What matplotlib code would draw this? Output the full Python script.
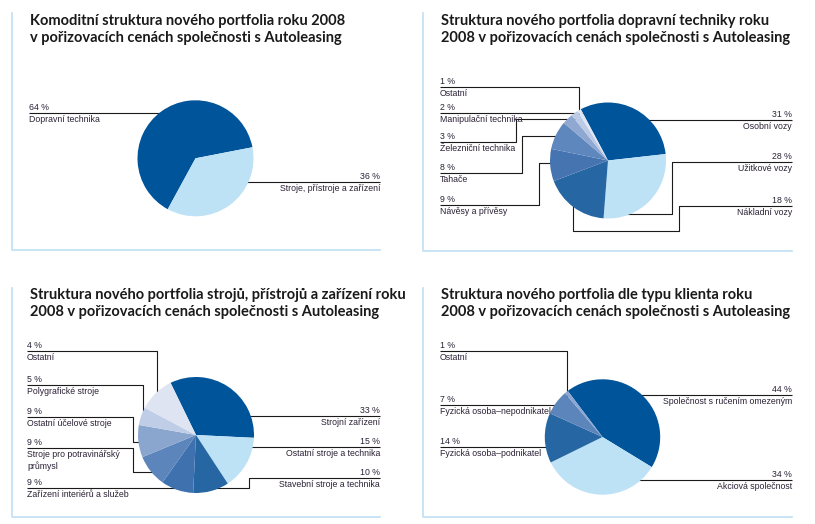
import matplotlib.pyplot as plt

W, H = 815, 524

DARK = '#00549a'
LIGHT = '#bde2f6'
BORDER = '#c4e3f5'
INK = '#1a1a1a'
LABEL_INK = '#2b2236'

# --- data (in drawing order around each pie) ---
kom_names = ["Dopravní technika", "Stroje, přístroje a zařízení"]
kom_values = [64, 36]

dop_names = ["Osobní vozy", "Užitkové vozy", "Nákladní vozy", "Návěsy a přívěsy",
             "Tahače", "Železniční technika", "Manipulační technika", "Ostatní"]
dop_values = [31, 28, 18, 9, 8, 3, 2, 1]

str_names = ["Strojní zařízení", "Ostatní stroje a technika", "Stavební stroje a technika",
             "Zařízení interiérů a služeb", "Stroje pro potravinářský\nprůmysl",
             "Ostatní účelové stroje", "Polygrafické stroje", "Ostatní"]
str_values = [33, 15, 10, 9, 9, 9, 5, 4]

kli_names = ["Společnost s ručením omezeným", "Akciová společnost",
             "Fyzická osoba–podnikatel", "Fyzická osoba–nepodnikatel", "Ostatní"]
kli_values = [44, 34, 14, 7, 1]

titles = [
    "Komoditní struktura nového portfolia roku 2008\nv pořizovacích cenách společnosti s Autoleasing",
    "Struktura nového portfolia dopravní techniky roku\n2008 v pořizovacích cenách společnosti s Autoleasing",
    "Struktura nového portfolia strojů, přístrojů a zařízení roku\n2008 v pořizovacích cenách společnosti s Autoleasing",
    "Struktura nového portfolia dle typu klienta roku\n2008 v pořizovacích cenách společnosti s Autoleasing",
]

dop_colors = [DARK, LIGHT, '#2566a3', '#4574b0', '#5e87bd', '#8ea8d1', '#bccae6', '#e0e7f4']
str_colors = [DARK, LIGHT, '#2566a3', '#3e71ad', '#5b85bb', '#8aa6cf', '#c0cde6', '#dee4f1']
kli_colors = [DARK, LIGHT, '#2566a3', '#5b85bb', '#8ba6d0']

fig = plt.figure(figsize=(W / 100, H / 100), dpi=100)
ax = fig.add_axes([0, 0, 1, 1])

TITLE_FONT = ['Lato', 'DejaVu Sans']
LABEL_FONT = ['Liberation Sans Narrow', 'Liberation Sans', 'DejaVu Sans']


def draw_pie(values, colors, center, r, start, clockwise=True):
    # y axis is inverted (pixel coords), so visual angles are mirrored
    ax.pie(values, colors=colors, center=center, radius=r,
           startangle=-start, counterclock=clockwise,
           wedgeprops=dict(linewidth=0, zorder=3))


def leader(points, value, name, side='left'):
    xs = [p[0] for p in points]
    ys = [p[1] for p in points]
    ax.plot(xs, ys, color=INK, lw=0.8, zorder=1, solid_capstyle='butt')
    x0, y0 = points[0]
    ha = 'left' if side == 'left' else 'right'
    ax.text(x0, y0 - 1.0, f"{value} %", ha=ha, va='bottom', fontsize=6.3,
            color=LABEL_INK, family=LABEL_FONT)
    ax.text(x0, y0 + 2.0, name, ha=ha, va='top', fontsize=6.3,
            color=LABEL_INK, family=LABEL_FONT, linespacing=1.35)


def panel_frame(x, y_top, y_bot, x_end, title, tx, ty):
    ax.plot([x, x, x_end], [y_top, y_bot, y_bot], color=BORDER, lw=1.3, zorder=0)
    ax.text(tx, ty, title, ha='left', va='top', fontsize=10.5, fontweight='bold',
            color=INK, family=TITLE_FONT, linespacing=1.3)


# panel frames + titles
panel_frame(12, 13, 250, 380, titles[0], 30, 14)
panel_frame(423, 13, 251, 792, titles[1], 441, 14)
panel_frame(12, 288, 517, 380, titles[2], 30, 288)
panel_frame(423, 288, 517, 792, titles[3], 441, 288)

# 1) komoditni struktura
draw_pie(kom_values, [DARK, LIGHT], (195.5, 158.3), 58, 11, clockwise=False)
leader([(29, 112.7), (175, 112.7)], kom_values[0], kom_names[0])
leader([(380, 182.3), (235, 182.3)], kom_values[1], kom_names[1], 'right')

# 2) dopravni technika
draw_pie(dop_values, dop_colors, (608, 160.5), 58, 118)
dop_leaders = [
    ([(792, 120), (635, 120)], 'right'),
    ([(792, 162.3), (671.7, 162.3), (671.7, 214), (620, 214)], 'right'),
    ([(792, 205.7), (679, 205.7), (679, 230.7), (573.3, 230.7), (573.3, 200)], 'right'),
    ([(440, 205), (539.3, 205), (539.3, 163.3), (562, 163.3)], 'left'),
    ([(440, 173.3), (522.3, 173.3), (522.3, 136), (565, 136)], 'left'),
    ([(440, 141.7), (516, 141.7), (516, 119.3), (578, 119.3)], 'left'),
    ([(440, 113.3), (585, 113.3)], 'left'),
    ([(440, 87.3), (579, 87.3), (579, 118)], 'left'),
]
for i, (pts, side) in enumerate(dop_leaders):
    leader(pts, dop_values[i], dop_names[i], side)

# 3) stroje, pristroje a zarizeni
# the unlabeled remainder is drawn inside the "Ostatní" wedge, as in the source
str_sizes = list(str_values)
str_sizes[-1] += 100 - sum(str_values)
draw_pie(str_sizes, str_colors, (196, 435), 58, 116)
str_leaders = [
    ([(380, 415.7), (240, 415.7)], 'right'),
    ([(380, 446.7), (240, 446.7)], 'right'),
    ([(380, 478.3), (249.3, 478.3), (249.3, 488), (215, 488)], 'right'),
    ([(27, 488.3), (190, 488.3)], 'left'),
    ([(27, 447.7), (132.7, 447.7), (132.7, 471.7), (158, 471.7)], 'left'),
    ([(27, 416.7), (132.7, 416.7), (132.7, 441.7), (152, 441.7)], 'left'),
    ([(27, 385), (143.3, 385), (143.3, 420)], 'left'),
    ([(27, 351), (156.7, 351), (156.7, 405)], 'left'),
]
for i, (pts, side) in enumerate(str_leaders):
    leader(pts, str_values[i], str_names[i], side)

# 4) typ klienta
draw_pie(kli_values, kli_colors, (602.5, 437), 57.7, 127)
kli_leaders = [
    ([(792, 395), (630, 395)], 'right'),
    ([(792, 480), (630, 480)], 'right'),
    ([(440, 446.7), (558, 446.7)], 'left'),
    ([(440, 405), (562, 405)], 'left'),
    ([(440, 351), (566.7, 351), (566.7, 400)], 'left'),
]
for i, (pts, side) in enumerate(kli_leaders):
    leader(pts, kli_values[i], kli_names[i], side)

ax.set_xlim(0, W)
ax.set_ylim(H, 0)
ax.set_aspect('equal')
ax.axis('off')

fig.savefig('out.png', dpi=100, facecolor='white')
